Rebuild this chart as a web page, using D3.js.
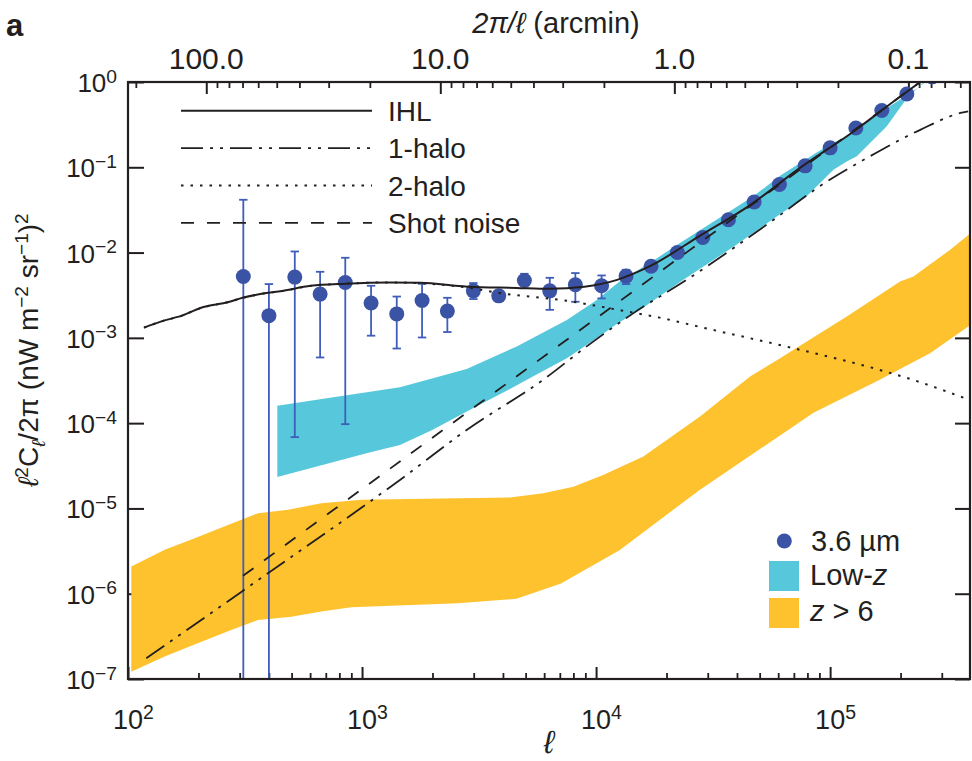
<!DOCTYPE html>
<html><head><meta charset="utf-8">
<script src="https://cdn.jsdelivr.net/npm/d3@7"></script>
<style>
body{margin:0;background:#fff}
svg{display:block;font-family:"Liberation Sans",Arial,Helvetica,sans-serif}
</style></head><body>
<svg id="chart" width="972" height="761"></svg>
<script>
// ---------------- DATA ----------------
// 3.6 micron measurements
const pointL  = [311,400,516,662,848,1093,1407,1805,2315,2990,3839,4939,6340,8155,10556,13431,17180,22250,28580,36770,47340,60720,78200,100000,128800,166300,212700,273000];
const pointV  = [5.25e-3,1.82e-3,5.16e-3,3.26e-3,4.46e-3,2.56e-3,1.91e-3,2.74e-3,2.06e-3,3.56e-3,3.11e-3,4.71e-3,3.56e-3,4.19e-3,4.08e-3,5.3e-3,6.9e-3,0.0100,0.0150,0.0243,0.0391,0.0629,0.104,0.169,0.289,0.464,0.723,1.15];
const pointHi = [0.0416,4.27e-3,0.0103,5.95e-3,8.69e-3,4.08e-3,3.05e-3,4.3e-3,2.95e-3,4.39e-3,3.3e-3,5.64e-3,5.06e-3,5.75e-3,5.39e-3,6.28e-3,7.4e-3,0.0106,0.0158,0.0255,0.0408,0.0650,0.107,0.174,0.296,0.474,0.738,1.18];
const pointLo = [1e-7,1e-7,6.85e-5,5.89e-4,9.73e-5,1.06e-3,7.5e-4,1.01e-3,1.17e-3,2.85e-3,2.9e-3,4.08e-3,2.13e-3,2.65e-3,2.9e-3,4.27e-3,6.4e-3,9.4e-3,0.0142,0.0232,0.0375,0.0608,0.101,0.164,0.282,0.454,0.708,1.12];

// IHL model
const ihlL = [117,141,170,204,269,309,363,457,603,851,1288,1778,2818,4571,6310,8913,12300,16980,27540,45710,74130,123000,199500,251200];
const ihlV = [1.32e-3,1.58e-3,1.82e-3,2.24e-3,2.63e-3,2.95e-3,3.24e-3,3.55e-3,4.07e-3,4.32e-3,4.47e-3,4.42e-3,3.98e-3,3.85e-3,3.76e-3,3.98e-3,4.79e-3,6.92e-3,1.55e-2,3.63e-2,9.77e-2,0.251,0.676,1.07];
// 1-halo
const oneHaloL = [119.7,304.8,396.3,1452,2799,5957,9120,14450,24380,61090,90570,148300,242700,365600,389000];
const oneHaloV = [1.75e-7,1.05e-6,1.74e-6,2.16e-5,8.32e-5,3.24e-4,7.94e-4,1.95e-3,4.79e-3,0.0275,0.0603,0.135,0.275,0.437,0.452];
// 2-halo
const twoHaloL = [117,141,170,204,269,309,363,457,603,851,1288,1778,2818,3890,7499,12300,19950,27540,64570,162200,218800,396300];
const twoHaloV = [1.32e-3,1.58e-3,1.82e-3,2.24e-3,2.63e-3,2.95e-3,3.24e-3,3.55e-3,4.07e-3,4.32e-3,4.47e-3,4.37e-3,3.89e-3,3.35e-3,2.72e-3,2.14e-3,1.66e-3,1.35e-3,7.94e-4,4.22e-4,3.31e-4,1.86e-4];
// Shot noise
const shotL = [310,242700];
const shotV = [1.62e-6,1.0];

// Low-z band
const lowzUpL = [434.5,706.3,1452,2799,4581,7499,10000,12590,17020,22130,46990,61090,84920,100000,117800,173800,242700,281800];
const lowzUpV = [1.60e-4,1.96e-4,2.63e-4,4.32e-4,7.94e-4,1.62e-3,2.75e-3,4.57e-3,7.59e-3,1.23e-2,4.57e-2,7.94e-2,0.141,0.186,0.229,0.490,0.891,1.26];
const lowzLoL = [434.5,1045,1452,1995,3090,4285,5395,7499,10400,12250,15420,23610,38640,61090,79430,103300,117800,130000,174600,212800,258800,295100];
const lowzLoV = [2.33e-5,4.45e-5,5.56e-5,8.32e-5,1.58e-4,2.51e-4,3.55e-4,5.75e-4,1.05e-3,1.45e-3,2.14e-3,4.79e-3,1.17e-2,2.82e-2,4.57e-2,9.33e-2,0.117,0.135,0.302,0.646,1.07,1.41];
// z > 6 band
const hizUpL = [103.3,143.5,192.8,267.3,359.7,483.1,669.9,993.1,2570,4285,5957,7998,10720,15920,27800,45500,61090,117800,199100,227000,325800,396300];
const hizUpV = [2.08e-6,3.27e-6,4.48e-6,6.41e-6,8.79e-6,9.62e-6,1.15e-5,1.26e-5,1.32e-5,1.34e-5,1.51e-5,1.80e-5,2.47e-5,4.06e-5,1.20e-4,3.52e-4,5.78e-4,1.78e-3,4.57e-3,5.25e-3,1.08e-2,1.66e-2];
const hizLoL = [103.3,143.5,198.6,276.1,359.7,498.9,669.9,899.5,2570,4571,7079,12590,27800,84920,163700,267300,396300];
const hizLoV = [1.22e-7,1.83e-7,2.62e-7,3.76e-7,4.93e-7,5.38e-7,6.17e-7,6.93e-7,7.73e-7,8.71e-7,1.32e-6,3.24e-6,1.66e-5,1.32e-4,3.24e-4,6.61e-4,1.41e-3];

// ticks
const yDecades = [1,1e-1,1e-2,1e-3,1e-4,1e-5,1e-6,1e-7];
const yTickExp = ["0","\u22121","\u22122","\u22123","\u22124","\u22125","\u22126","\u22127"];
const xMajor = [1e2,1e3,1e4,1e5];
const xTickExp = ["2","3","4","5"];
const topMajor = [100,10,1,0.1];
const topLabels = ["100.0","10.0","1.0","0.1"];
const legendLines = ["IHL","1-halo","2-halo","Shot noise"];

// ---------------- LAYOUT ----------------
const X0 = 128, X1 = 970, Y0 = 82, Y1 = 679;
const ink = "#231f20";
const cyan = "#57c8dc", yellow = "#fdc22d", dotBlue = "#3a53a4", barBlue = "#3f5db9";
const ARCMIN = 21600; // 2*pi rad expressed in arcmin

const x = d3.scaleLog().domain([100, 3.96e5]).range([X0, X1]);
const y = d3.scaleLog().domain([1e-7, 1]).range([Y1, Y0]);
const xTop = d3.scaleLog().domain([ARCMIN/100, ARCMIN/3.96e5]).range([X0, X1]);

const svg = d3.select("#chart");
svg.append("rect").attr("width",972).attr("height",761).attr("fill","#fff");
svg.append("defs").append("clipPath").attr("id","clip")
  .append("rect").attr("x",X0).attr("y",Y0).attr("width",X1-X0).attr("height",Y1-Y0);

function styleAxis(g, w){
  g.select(".domain").remove();
  g.selectAll("text").remove();
  g.selectAll("line").attr("stroke",ink).attr("stroke-width",w);
}
const xMinor = [];
[100,1000,10000,100000].forEach(d => { for (let k=2;k<=9;k++){ const v=k*d; if (v<=3.96e5) xMinor.push(v);} });
const topMinor = [];
[100,10,1,0.1,0.01].forEach(d => { for (let k=2;k<=9;k++){ const v = k*d; if (v<=ARCMIN/100 && v>=ARCMIN/3.96e5) topMinor.push(v);} });

svg.append("g").attr("transform",`translate(0,${Y1})`).call(d3.axisBottom(x).tickValues(xMajor).tickSize(-12)).call(styleAxis,2);
svg.append("g").attr("transform",`translate(0,${Y1})`).call(d3.axisBottom(x).tickValues(xMinor).tickSize(-6)).call(styleAxis,1.8);
svg.append("g").attr("transform",`translate(0,${Y0})`).call(d3.axisTop(xTop).tickValues(topMajor).tickSize(-12)).call(styleAxis,2);
svg.append("g").attr("transform",`translate(0,${Y0})`).call(d3.axisTop(xTop).tickValues(topMinor).tickSize(-6)).call(styleAxis,1.8);
svg.append("g").attr("transform",`translate(${X0},0)`).call(d3.axisLeft(y).tickValues(yDecades).tickSize(-16)).call(styleAxis,2);
svg.append("g").attr("transform",`translate(${X1},0)`).call(d3.axisRight(y).tickValues(yDecades).tickSize(-15)).call(styleAxis,2);

// ---------------- DATA LAYER ----------------
const plot = svg.append("g").attr("clip-path","url(#clip)");
const zip = (a,b) => a.map((v,i)=>[v,b[i]]);
const lin = d3.line().x(d=>x(d[0])).y(d=>y(d[1]));
const smooth = d3.line().x(d=>x(d[0])).y(d=>y(d[1])).curve(d3.curveMonotoneX);

function band(upL, upV, loL, loV){
  const pts = zip(upL,upV).concat(zip(loL,loV).reverse());
  return lin(pts) + "Z";
}
plot.append("path").attr("d", band(hizUpL,hizUpV,hizLoL,hizLoV)).attr("fill",yellow);
plot.append("path").attr("d", band(lowzUpL,lowzUpV,lowzLoL,lowzLoV)).attr("fill",cyan);

// error bars
const eb = plot.append("g").attr("stroke",barBlue).attr("stroke-width",1.8).attr("fill","none");
pointL.forEach((l,i)=>{
  const cx = x(l), yh = y(pointHi[i]), yl = y(pointLo[i]);
  eb.append("line").attr("x1",cx).attr("x2",cx).attr("y1",yh).attr("y2",yl);
  eb.append("line").attr("x1",cx-4.2).attr("x2",cx+4.2).attr("y1",yh).attr("y2",yh);
  eb.append("line").attr("x1",cx-4.2).attr("x2",cx+4.2).attr("y1",yl).attr("y2",yl);
});
plot.append("g").selectAll("circle").data(zip(pointL,pointV)).join("circle")
  .attr("cx",d=>x(d[0])).attr("cy",d=>y(d[1])).attr("r",7.5).attr("fill",dotBlue);

const dashOne = "22,7,3,7,3,7", dashTwo = "2.5,7", dashShot = "13,13";
plot.append("path").attr("d", smooth(zip(twoHaloL,twoHaloV))).attr("fill","none").attr("stroke",ink).attr("stroke-width",2).attr("stroke-dasharray",dashTwo);
plot.append("path").attr("d", smooth(zip(oneHaloL,oneHaloV))).attr("fill","none").attr("stroke",ink).attr("stroke-width",1.8).attr("stroke-dasharray",dashOne);
plot.append("path").attr("d", lin(zip(shotL,shotV))).attr("fill","none").attr("stroke",ink).attr("stroke-width",1.8).attr("stroke-dasharray",dashShot);
plot.append("path").attr("d", smooth(zip(ihlL,ihlV))).attr("fill","none").attr("stroke",ink).attr("stroke-width",2);

// frame
svg.append("rect").attr("x",X0).attr("y",Y0).attr("width",X1-X0).attr("height",Y1-Y0)
  .attr("fill","none").attr("stroke",ink).attr("stroke-width",2.2);

// ---------------- TEXT ----------------
function rich(sel, segs, size, supScale){
  const ss = supScale || 0.7;
  let cur = 0;
  segs.forEach(sg => {
    const target = sg.s==="sup" ? -0.36*size : sg.s==="sub" ? 0.24*size : 0;
    const t = sel.append("tspan").attr("dy", target-cur).text(sg.t);
    if (sg.s) t.attr("font-size", size*ss);
    if (sg.i) t.attr("font-style","italic");
    cur = target;
  });
}
// left tick labels
yDecades.forEach((v,i)=>{
  const t = svg.append("text").attr("x",117).attr("y",y(v)+10).attr("text-anchor","end")
    .attr("font-size",26).attr("fill",ink);
  rich(t,[{t:"10"},{t:yTickExp[i],s:"sup"}],26,0.74);
});
// bottom tick labels ("10" centred on the tick)
xMajor.forEach((v,i)=>{
  const t = svg.append("text").attr("x",x(v)-15).attr("y",729).attr("text-anchor","start")
    .attr("font-size",27).attr("fill",ink);
  rich(t,[{t:"10"},{t:xTickExp[i],s:"sup"}],27,0.72);
});
// top tick labels
topMajor.forEach((v,i)=>{
  svg.append("text").attr("x",xTop(v)).attr("y",69).attr("text-anchor","middle")
    .attr("font-size",30).attr("fill",ink).text(topLabels[i]);
});
// titles
const tt = svg.append("text").attr("x",556).attr("y",33).attr("text-anchor","middle").attr("font-size",29).attr("fill",ink);
rich(tt,[{t:"2\u03c0/\u2113",i:true},{t:" (arcmin)"}],29);
svg.append("text").attr("x",549).attr("y",753).attr("text-anchor","middle").attr("font-size",32)
  .attr("font-style","italic").attr("fill",ink).text("\u2113");
const yt = svg.append("text").attr("transform","translate(38,350) rotate(-90)").attr("text-anchor","middle")
  .attr("font-size",28).attr("fill",ink);
rich(yt,[{t:"\u2113",i:true},{t:"2",s:"sup"},{t:"C"},{t:"\u2113",s:"sub",i:true},{t:"/2\u03c0 (nW m"},{t:"\u22122",s:"sup"},{t:" sr"},{t:"\u22121",s:"sup"},{t:")"},{t:"2",s:"sup"}],28,0.68);
svg.append("text").attr("x",6).attr("y",36).attr("font-size",31).attr("font-weight","bold").attr("fill",ink).text("a");

// ---------------- LEGENDS ----------------
const legDash = [null, dashOne, dashTwo, dashShot];
legendLines.forEach((name,i)=>{
  const ly = 110.7 + i*37.4;
  const ln = svg.append("line").attr("x1",181).attr("x2",372).attr("y1",ly).attr("y2",ly)
    .attr("stroke",ink).attr("stroke-width",i===0?2:1.8);
  if (legDash[i]) ln.attr("stroke-dasharray",legDash[i]);
  svg.append("text").attr("x",388).attr("y",ly+10).attr("font-size",28).attr("fill",ink).text(name);
});
svg.append("circle").attr("cx",784.3).attr("cy",541).attr("r",7.5).attr("fill",dotBlue);
svg.append("text").attr("x",811).attr("y",550.5).attr("font-size",29).attr("fill",ink).text("3.6 \u00b5m");
svg.append("rect").attr("x",769).attr("y",561).attr("width",30).attr("height",30).attr("fill",cyan);
const t2 = svg.append("text").attr("x",810).attr("y",585).attr("font-size",29).attr("fill",ink);
rich(t2,[{t:"Low-"},{t:"z",i:true}],29);
svg.append("rect").attr("x",769).attr("y",598).attr("width",30).attr("height",30).attr("fill",yellow);
const t3 = svg.append("text").attr("x",810).attr("y",621).attr("font-size",29).attr("fill",ink);
rich(t3,[{t:"z",i:true},{t:" > 6"}],29);
</script>
</body></html>
